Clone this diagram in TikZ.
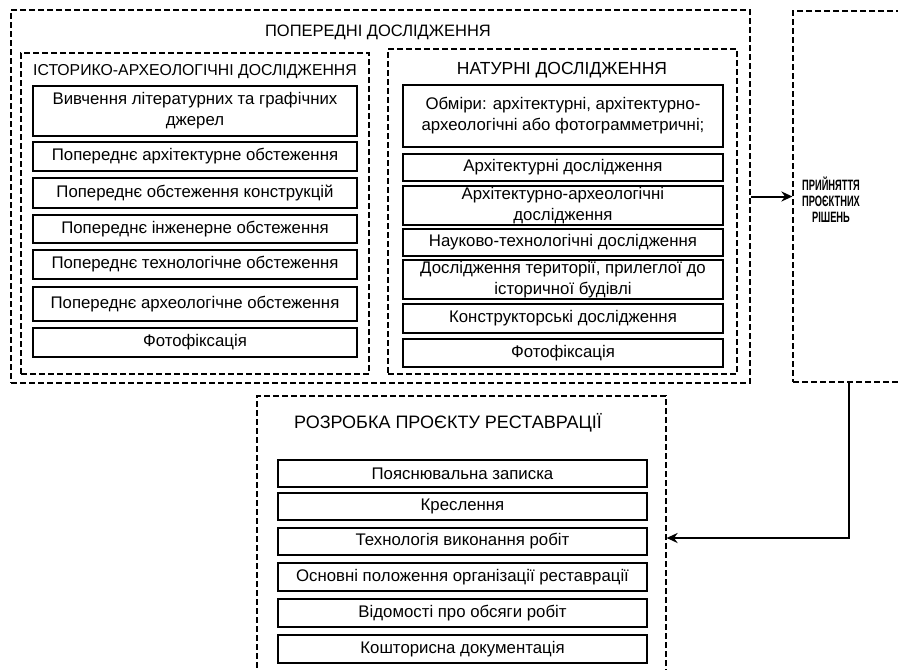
\documentclass[tikz,border=0pt]{standalone}
\usepackage{fontspec}
\setmainfont{Liberation Sans}
\newfontfamily\narrowbold[FakeStretch=0.62]{Liberation Sans Bold}
\usetikzlibrary{
  arrows.meta,
  positioning,
  calc
}

\tikzset{
  itembox/.style={draw, line width=2pt, align=center, inner sep=1pt,
    font=\fontsize{16.8}{21}\selectfont},
  cluster/.style={draw, line width=1.8pt, dash pattern=on 6pt off 3pt},
  heading/.style={font=\fontsize{16.5}{20}\selectfont}
}

\begin{document}
\begin{tikzpicture}[x=1pt, y=-1pt]
\useasboundingbox (0,0) rectangle (898,670);

% -------------------------
% Clusters (boxes)
% -------------------------
\node[cluster, minimum width=739pt, minimum height=373pt] (prelim)   at (380.5,196.5) {};
\node[cluster, minimum width=348pt, minimum height=321pt] (histarch) at (195,213.5) {};
\node[cluster, minimum width=349pt, minimum height=325pt] (field)    at (562.5,211.5) {};
\node[cluster, line width=1.2pt, minimum width=112pt, minimum height=371pt] (decision) at (849,196.5) {};
\node[cluster, line width=1.2pt, minimum width=409pt, minimum height=284pt] (project)  at (461.5,538) {};

% -------------------------
% Headings
% -------------------------
\node[heading] (prelimT)   at (378,32)  {ПОПЕРЕДНІ ДОСЛІДЖЕННЯ};
\node[heading, font=\fontsize{15.8}{20}\selectfont] (histarchT) at (195,72)  {ІСТОРИКО-АРХЕОЛОГІЧНІ ДОСЛІДЖЕННЯ};
\node[heading, font=\fontsize{17.5}{20}\selectfont] (fieldT)    at (562,70)  {НАТУРНІ ДОСЛІДЖЕННЯ};
\node[heading, font=\fontsize{18}{20}\selectfont]   (projectT)  at (448,423) {РОЗРОБКА ПРОЄКТУ РЕСТАВРАЦІЇ};
\node[align=center, font=\narrowbold\fontsize{15}{16}\selectfont] (decisionT) at (831,200)
  {ПРИЙНЯТТЯ\\ПРОЄКТНИХ\\РІШЕНЬ};

% -------------------------
% Historical-archaeological
% -------------------------
\begin{scope}[every node/.style={itembox, minimum width=324pt}]
\node[minimum height=50pt] (h1) at (195,111)   {Вивчення літературних та графічних\\джерел};
\node[minimum height=29pt] (h2) at (195,156.5) {Попереднє архітектурне обстеження};
\node[minimum height=30pt] (h3) at (195,193)   {Попереднє обстеження конструкцій};
\node[minimum height=28pt] (h4) at (195,229)   {Попереднє інженерне обстеження};
\node[minimum height=29pt] (h5) at (195,264.5) {Попереднє технологічне обстеження};
\node[minimum height=34pt] (h6) at (195,304)   {Попереднє археологічне обстеження};
\node[minimum height=29pt] (h7) at (195,342.5) {Фотофіксація};
\end{scope}

% -------------------------
% Field studies
% -------------------------
\begin{scope}[every node/.style={itembox, minimum width=320pt}]
\node[minimum height=62pt] (f1) at (563,116)   {Обміри: архітектурні, архітектурно-\\археологічні або фотограмметричні;};
\node[minimum height=27pt] (f2) at (563,167.5) {Архітектурні дослідження};
\node[minimum height=35pt] (f3) at (563,205.5) {Архітектурно-археологічні\\дослідження};
\node[minimum height=27pt] (f4) at (563,242.5) {Науково-технологічні дослідження};
\node[minimum height=39pt] (f5) at (563,279.5) {Дослідження території, прилеглої до\\історичної будівлі};
\node[minimum height=29pt] (f6) at (563,318.5) {Конструкторські дослідження};
\node[minimum height=28pt] (f7) at (563,353)   {Фотофіксація};
\end{scope}

% -------------------------
% Restoration project
% -------------------------
\begin{scope}[every node/.style={itembox, minimum width=369pt}]
\node[minimum height=27pt] (p1) at (462.5,473.5) {Пояснювальна записка};
\node[minimum height=27pt] (p2) at (462.5,506.5) {Креслення};
\node[minimum height=27pt] (p3) at (462.5,541.5) {Технологія виконання робіт};
\node[minimum height=28pt] (p4) at (462.5,577)   {Основні положення організації реставрації};
\node[minimum height=28pt] (p5) at (462.5,613)   {Відомості про обсяги робіт};
\node[minimum height=28pt] (p6) at (462.5,649)   {Кошторисна документація};
\end{scope}

% -------------------------
% Edges
% -------------------------
\begin{scope}[>={Stealth[length=11pt, width=10pt]}, line width=2pt]
\draw[->] (prelim.east |- decision.west) -- (decision.west);
\draw[->] (decision.south) |- (project.east);
\end{scope}

\end{tikzpicture}
\end{document}
